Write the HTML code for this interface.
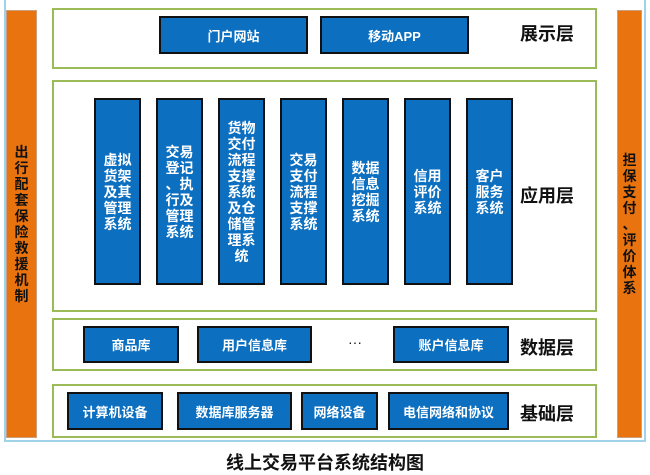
<!DOCTYPE html>
<html><head><meta charset="utf-8"><style>
body{margin:0;width:650px;height:475px;background:#fff;position:relative;overflow:hidden;font-family:"Liberation Sans","Noto Sans CJK SC",sans-serif;}
div{position:absolute;box-sizing:border-box;}
.outer{left:4px;top:-2px;width:642px;height:444px;border:2px solid #9fd3ea;}
.or{background:#e8730f;border:1px solid #c9a080;color:#111;font-weight:bold;font-size:14px;line-height:16px;text-align:center;display:flex;align-items:center;justify-content:center;}
.layer{left:52px;width:545px;border:2px solid #9bbb59;background:#fff;}
.b{background:#0c6fc0;border:2px solid #111;color:#fff;font-weight:bold;font-size:13px;display:flex;align-items:center;justify-content:center;text-align:center;}
.t{top:98px;height:187px;width:47px;font-size:14px;line-height:16px;}
.lab{left:520px;font-size:18px;color:#111;font-weight:bold;}
</style></head><body>
<div class="outer"></div>
<div class="or" style="left:6px;top:10px;width:31px;height:428px;">出<br>行<br>配<br>套<br>保<br>险<br>救<br>援<br>机<br>制</div>
<div class="or" style="left:617px;top:10px;width:25px;height:428px;">担<br>保<br>支<br>付<br>、<br>评<br>价<br>体<br>系</div>

<div class="layer" style="top:8px;height:61px;"></div>
<div class="b" style="left:159px;top:16px;width:149px;height:38px;">门户网站</div>
<div class="b" style="left:320px;top:16px;width:149px;height:38px;">移动APP</div>
<div class="lab" style="top:20px;">展示层</div>

<div class="layer" style="top:80px;height:232px;"></div>
<div class="b t" style="left:94px;">虚拟<br>货架<br>及其<br>管理<br>系统</div>
<div class="b t" style="left:156px;">交易<br>登记<br>、执<br>行及<br>管理<br>系统</div>
<div class="b t" style="left:218px;">货物<br>交付<br>流程<br>支撑<br>系统<br>及仓<br>储管<br>理系<br>统</div>
<div class="b t" style="left:280px;">交易<br>支付<br>流程<br>支撑<br>系统</div>
<div class="b t" style="left:342px;">数据<br>信息<br>挖掘<br>系统</div>
<div class="b t" style="left:404px;">信用<br>评价<br>系统</div>
<div class="b t" style="left:466px;">客户<br>服务<br>系统</div>
<div class="lab" style="top:182px;">应用层</div>

<div class="layer" style="top:318px;height:53px;"></div>
<div class="b" style="left:83px;top:326px;width:96px;height:37px;">商品库</div>
<div class="b" style="left:197px;top:326px;width:115px;height:37px;">用户信息库</div>
<div style="left:348px;top:334px;font-size:14px;color:#111;">···</div>
<div class="b" style="left:393px;top:326px;width:116px;height:37px;">账户信息库</div>
<div class="lab" style="top:334px;">数据层</div>

<div class="layer" style="top:384px;height:54px;"></div>
<div class="b" style="left:67px;top:392px;width:96px;height:38px;">计算机设备</div>
<div class="b" style="left:177px;top:392px;width:115px;height:38px;">数据库服务器</div>
<div class="b" style="left:301px;top:392px;width:77px;height:38px;">网络设备</div>
<div class="b" style="left:388px;top:392px;width:121px;height:38px;">电信网络和协议</div>
<div class="lab" style="top:400px;">基础层</div>

<div style="left:0;width:650px;top:449px;text-align:center;font-size:18px;font-weight:bold;color:#111;">线上交易平台系统结构图</div>
</body></html>
